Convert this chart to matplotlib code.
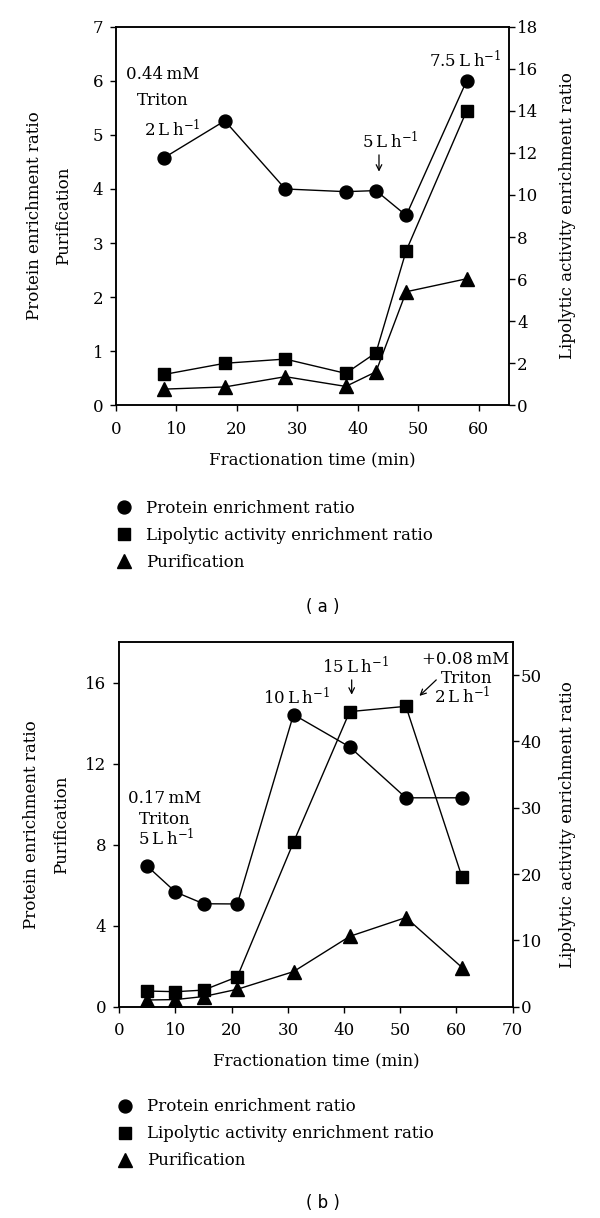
import matplotlib
matplotlib.use("Agg")
import matplotlib.pyplot as plt
from matplotlib.lines import Line2D

plt.rcParams['font.family'] = ['DejaVu Serif']
plt.rcParams['mathtext.fontset'] = 'dejavuserif'

# panel (a)
t_a = [8, 18, 28, 38, 43, 48, 58]
protein_a = [4.58, 5.26, 4.0, 3.95, 3.97, 3.51, 6.0]
lipolytic_a = [1.47, 2.0, 2.2, 1.52, 2.5, 7.35, 14.0]
purif_a = [0.30, 0.34, 0.53, 0.35, 0.62, 2.10, 2.34]

# panel (b)
t_b = [5, 10, 15, 21, 31, 41, 51, 61]
protein_b = [6.93, 5.66, 5.08, 5.07, 14.42, 12.82, 10.31, 10.31]
lipolytic_b = [2.36, 2.26, 2.5, 4.5, 24.8, 44.5, 45.3, 19.5]
purif_b = [0.33, 0.35, 0.5, 0.86, 1.73, 3.47, 4.4, 1.93]

labels = ["Protein enrichment ratio", "Lipolytic activity enrichment ratio", "Purification"]

TS = 12   # tick / annotation size
LS = 12   # axis label / legend size
th = "\u2009"

fig = plt.figure(figsize=(6, 12.18), dpi=100)
ax_a = fig.add_axes([0.1933, 0.6672, 0.655, 0.3109])
ax_b = fig.add_axes([0.1988, 0.1735, 0.6557, 0.2994])

def draw(ax, t, prot, lip, pur, xlim, xticks, ylim, yticks, rlim, rticks, lpad, rpad):
    ax.plot(t, prot, 'k-', marker='o', ms=9.3, lw=1.0)
    ax.plot(t, pur, 'k-', marker='^', ms=10.5, lw=1.0)
    ax2 = ax.twinx()
    ax2.plot(t, lip, 'k-', marker='s', ms=8.7, lw=1.0)
    ax.set_xlim(*xlim)
    ax.set_xticks(xticks)
    ax.set_ylim(*ylim)
    ax.set_yticks(yticks)
    ax2.set_ylim(*rlim)
    ax2.set_yticks(rticks)
    for a in (ax, ax2):
        a.tick_params(direction='out', length=4.3, width=1, labelsize=TS)
        for s in a.spines.values():
            s.set_linewidth(1.1)
    ax.tick_params(axis='y', pad=5)
    ax.tick_params(axis='x', pad=7)
    ax2.tick_params(axis='y', pad=1.5)
    ax.set_xlabel("Fractionation time (min)", fontsize=LS, labelpad=10)
    ax.set_ylabel("Protein enrichment ratio\nPurification", fontsize=LS,
                  labelpad=lpad, linespacing=1.95)
    ax2.set_ylabel("Lipolytic activity enrichment ratio", fontsize=LS, labelpad=rpad)
    return ax2

draw(ax_a, t_a, protein_a, lipolytic_a, purif_a, (0, 65), range(0, 61, 10),
     (0, 7), range(0, 8), (0, 18), range(0, 19, 2), 14.5, 15)
draw(ax_b, t_b, protein_b, lipolytic_b, purif_b, (0, 70), range(0, 71, 10),
     (0, 18), range(0, 17, 4), (0, 55), range(0, 51, 10), 11.2, 12)

kw = dict(ha='center', va='center', fontsize=TS)
arrow = dict(arrowstyle='->', lw=0.9, color='k', shrinkA=0, shrinkB=0)

# annotations (a)
ax_a.text(7.8, 6.12, f"0.44{th}mM", **kw)
ax_a.text(7.8, 5.64, "Triton", **kw)
ax_a.text(9.3, 5.1, f"2{th}L{th}h$^{{-1}}$", **kw)
ax_a.text(57.7, 6.37, f"7.5{th}L{th}h$^{{-1}}$", **kw)
ax_a.text(45.3, 4.88, f"5{th}L{th}h$^{{-1}}$", **kw)
ax_a.annotate("", xy=(43.5, 4.32), xytext=(43.5, 4.63), arrowprops=arrow)

# annotations (b)
ax_b.text(8.0, 10.3, f"0.17{th}mM", **kw)
ax_b.text(8.0, 9.26, "Triton", **kw)
ax_b.text(8.4, 8.28, f"5{th}L{th}h$^{{-1}}$", **kw)
ax_b.text(31.6, 15.28, f"10{th}L{th}h$^{{-1}}$", **kw)
ax_b.text(42.1, 16.8, f"15{th}L{th}h$^{{-1}}$", **kw)
ax_b.annotate("", xy=(41.35, 15.4), xytext=(41.35, 16.13), arrowprops=arrow)
ax_b.text(61.6, 17.16, f"+0.08{th}mM", **kw)
ax_b.text(61.8, 16.22, "Triton", **kw)
ax_b.text(61.1, 15.32, f"2{th}L{th}h$^{{-1}}$", **kw)
ax_b.annotate("", xy=(53.4, 15.34), xytext=(56.4, 16.13), arrowprops=arrow)

handles = [Line2D([], [], ls='', marker='o', ms=9.3, color='k'),
           Line2D([], [], ls='', marker='s', ms=8.7, color='k'),
           Line2D([], [], ls='', marker='^', ms=10.5, color='k')]

for x0, y_top, tag_y, tag in [(0.1933, 1 - 500 / 1218, 1 - 606.7 / 1218, "( a )"),
                              (0.195, 1 - 1098.4 / 1218, 1 - 1203.3 / 1218, "( b )")]:
    fig.legend(handles, labels, loc='upper left', bbox_to_anchor=(x0, y_top),
               frameon=False, fontsize=LS, handlelength=1.0, handletextpad=0.8,
               labelspacing=0.6, borderpad=0, borderaxespad=0)
    fig.text(0.538, tag_y, tag, ha='center', va='center', fontsize=12,
             family='DejaVu Sans')

fig.savefig("out.png", dpi=100)
